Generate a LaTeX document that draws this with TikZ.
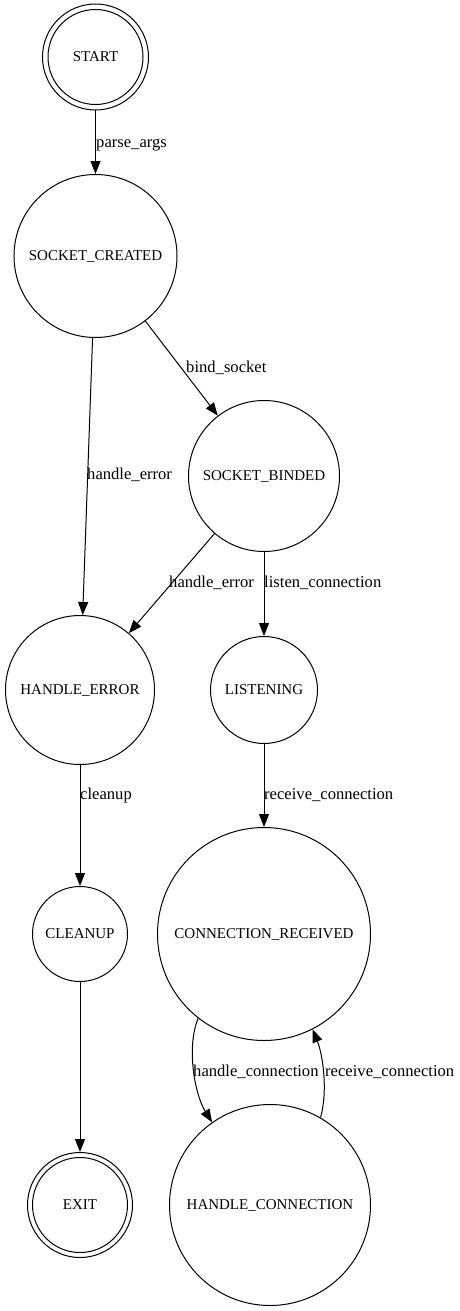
\documentclass[tikz,border=0pt]{standalone}
\usepackage{fontspec}
\setmainfont{Liberation Serif}
\usetikzlibrary{arrows.meta}
\begin{document}
\begin{tikzpicture}[x=1pt,y=-1pt,
  state/.style={draw, circle, line width=1pt, inner sep=0pt, font=\fontsize{15}{18}\selectfont},
  lbl/.style={anchor=base west, inner sep=0pt, font=\fontsize{16.6}{20}\selectfont},
  edge/.style={line width=1pt, -{Triangle[length=13pt,width=10pt]}}]
\useasboundingbox (0,0) rectangle (460,1311);
% states
\node[state, minimum size=106pt] (start) at (95.5,57) {START};
\draw[line width=1pt] (start.center) circle[radius=47.5pt];
\node[state, minimum size=163pt] (sc) at (95.5,256) {SOCKET\_CREATED};
\node[state, minimum size=151pt] (sb) at (264,476) {SOCKET\_BINDED};
\node[state, minimum size=149pt] (he) at (80,690) {HANDLE\_ERROR};
\node[state, minimum size=107pt] (li) at (264,690) {LISTENING};
\node[state, minimum size=95pt] (cl) at (80,934) {CLEANUP};
\node[state, minimum size=213pt] (cr) at (264,934) {CONNECTION\_RECEIVED};
\node[state, minimum size=105pt] (ex) at (80,1205) {EXIT};
\draw[line width=1pt] (ex.center) circle[radius=47.5pt];
\node[state, minimum size=201pt] (hc) at (270,1205) {HANDLE\_CONNECTION};
% edges
\draw[edge] (start) -- (sc);
\draw[edge] (sc) -- (sb);
\draw[edge] (sc) -- (he);
\draw[edge] (sb) -- (he);
\draw[edge] (sb) -- (li);
\draw[edge] (li) -- (cr);
\draw[edge] (he) -- (cl);
\draw[edge] (cl) -- (ex);
\draw[edge] (cr.232.5) .. controls (186,1048) and (195,1095) .. (hc.125);
\draw[edge] (hc.60.7) .. controls (328,1092) and (323,1055) .. (cr.-63.2);
% edge labels
\node[lbl] (lpa) at (96,147.5) {parse\_args};
\node[lbl] (lbs) at (186,372) {bind\_socket};
\node[lbl] (lhe1) at (87,479.5) {handle\_error};
\node[lbl] (lhe2) at (169,587.5) {handle\_error};
\node[lbl] (llc) at (264,587.5) {listen\_connection};
\node[lbl] (lcu) at (80,799.5) {cleanup};
\node[lbl] (lrc1) at (264,799.5) {receive\_connection};
\node[lbl] (lhc) at (193,1076.5) {handle\_connection};
\node[lbl] (lrc2) at (325,1076.5) {receive\_connection};
\end{tikzpicture}
\end{document}
